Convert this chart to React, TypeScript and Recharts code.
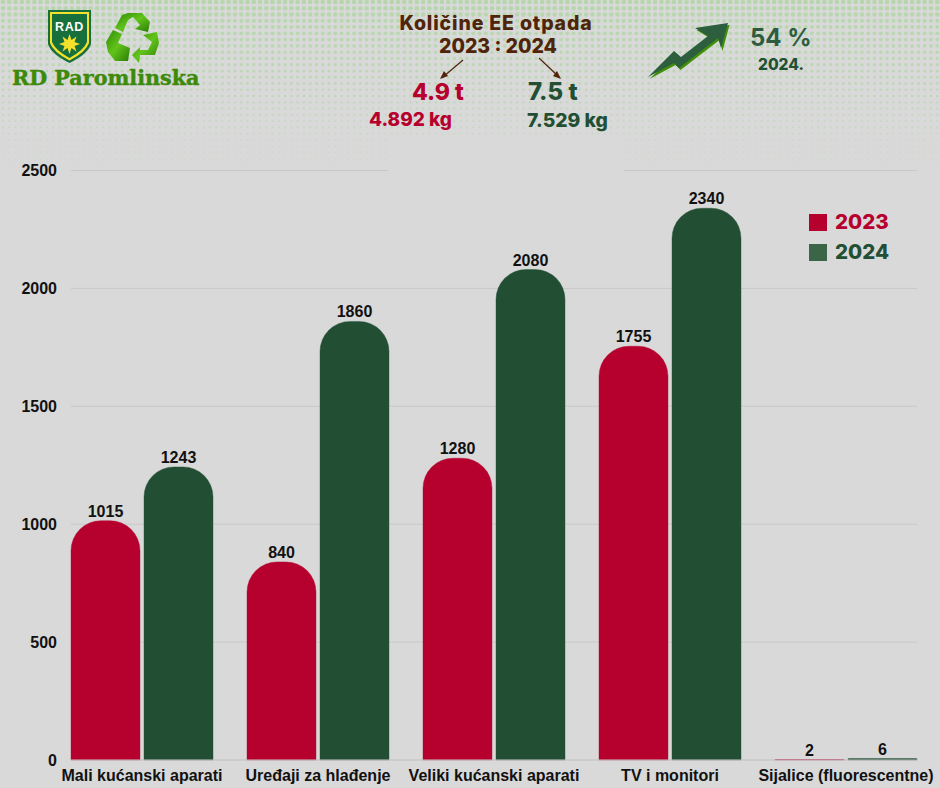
import { BarChart, Bar, XAxis, YAxis, CartesianGrid, LabelList, Legend } from "recharts";

const categories = [
  "Mali kućanski aparati",
  "Uređaji za hlađenje",
  "Veliki kućanski aparati",
  "TV i monitori",
  "Sijalice (fluorescentne)",
];
const values2023 = [1015, 840, 1280, 1755, 2];
const values2024 = [1243, 1860, 2080, 2340, 6];
const yTicks = [0, 500, 1000, 1500, 2000, 2500];
const legendItems = [
  { name: "2023", box: "#b6002d", text: "#b6002d" },
  { name: "2024", box: "#3a6647", text: "#224f34" },
];

const data = categories.map((name, i) => ({
  name,
  y2023: values2023[i],
  y2024: values2024[i],
}));

const RED = "#b6002d";
const GREEN = "#224f34";
const BROWN = "#4f2408";
const HEAD = "Inter, 'Open Sans', sans-serif";
const ARIAL = "'Liberation Sans', Arial, sans-serif";

// halftone background at the top of the page
const Dots = () => {
  const rows = [];
  for (let r = 0; r < 27; r++) {
    const y = 2 + r * 6.27;
    const k = 1 - y / 168;
    const rad = 0.45 + 1.9 * k;
    for (let c = 0; c < 150; c++) {
      rows.push(
        <circle key={`${r}-${c}`} cx={3 + c * 6.27} cy={y} r={rad} fill="#b6d6ac" opacity={0.45 + 0.55 * k} />
      );
    }
  }
  return (
    <svg width={940} height={180} style={{ position: "absolute", left: 0, top: 0 }}>
      {rows}
    </svg>
  );
};

const Header = () => (
  <svg width={940} height={180} style={{ position: "absolute", left: 0, top: 0 }}>
    <defs>
      <linearGradient id="rec" x1="0" y1="0" x2="1" y2="1">
        <stop offset="0%" stopColor="#2f8a06" />
        <stop offset="50%" stopColor="#62c41a" />
        <stop offset="100%" stopColor="#2a7d05" />
      </linearGradient>
    </defs>

    {/* shield */}
    <path d="M48,10 H91 V44 Q88,54 69.5,63 Q51,54 48,44 Z" fill="#17703c" />
    <path d="M50,12 H89 V43 Q86,52 69.5,60.5 Q53,52 50,43 Z" fill="#f4e12c" />
    <path d="M52,14 H87 V42 Q84,50 69.5,58 Q55,50 52,42 Z" fill="#17703c" />
    <text x={69.5} y={31} textAnchor="middle" fontFamily={ARIAL} fontWeight={700} fontSize={12.5} fill="#fff" letterSpacing={0.6}>
      RAD
    </text>
    <path
      d="M69.5,34 L71.5,40 L76.5,36.5 L74.5,42 L80,44 L74.5,46 L76.5,51.5 L71.5,48 L69.5,54 L67.5,48 L62.5,51.5 L64.5,46 L59,44 L64.5,42 L62.5,36.5 L67.5,40 Z"
      fill="#f4e12c"
    />

    {/* recycling icon */}
    <path d="M115,28 L122,15 L128,13 L142,13 L150,22 L148,32 L135,29 L140,25 L133,17 L128,20 L123,32 Z" fill="url(#rec)" />
    <path d="M106,42 L113,30 L122,34 L118,43 L130,48 L128,61 L115,61 L108,52 Z" fill="url(#rec)" />
    <path d="M132,55 L140,47 L140,50 L148,50 L152,42 L143,35 L157,32 L159,43 L155,55 L140,55 L139,63 Z" fill="url(#rec)" />

    <text x={12} y={85} fontFamily="'DejaVu Serif', serif" fontWeight={700} fontSize={20.7} fill="#3d8a0a" stroke="#3d8a0a" strokeWidth={0.4}>
      RD Paromlinska
    </text>

    {/* title block */}
    <text x={496} y={30} textAnchor="middle" fontFamily={HEAD} fontWeight={800} fontSize={19.5} letterSpacing={0.85} fill={BROWN}>
      Količine EE otpada
    </text>
    <text x={498} y={53} textAnchor="middle" fontFamily={HEAD} fontWeight={800} fontSize={19.5} fill={BROWN}>
      2023 : 2024
    </text>
    <line x1={463} y1={60} x2={443} y2={77} stroke={BROWN} strokeWidth={1.2} />
    <path d="M440,79 L448,76 L444,71 Z" fill={BROWN} />
    <line x1={539} y1={58} x2={558} y2={76} stroke={BROWN} strokeWidth={1.2} />
    <path d="M561,79 L557,71 L553,76 Z" fill={BROWN} />

    <text x={412} y={100} fontFamily={HEAD} fontWeight={800} fontSize={23} fill={RED}>4.9 t</text>
    <text x={528} y={100} fontFamily={HEAD} fontWeight={800} fontSize={24} fill={GREEN}>7.5 t</text>
    <text x={369} y={126} fontFamily={HEAD} fontWeight={800} fontSize={19} fill={RED}>4.892 kg</text>
    <text x={527} y={127} fontFamily={HEAD} fontWeight={800} fontSize={19.3} fill={GREEN}>7.529 kg</text>

    {/* growth arrow */}
    <path d="M649.5,79 L675.5,53 L682.5,59 L709.5,38 L696.5,30 L729.5,25 L722.5,51 L719.5,40 L680.5,70 L675.5,65 Z" fill="#3f8f0a" />
    <path d="M648,77 L674,51 L681,57 L708,36 L695,28 L728,23 L721,48 L718,38 L679,68 L674,63 Z" fill="#2d5e3e" />

    <text x={750} y={46} fontFamily={HEAD} fontWeight={700} fontSize={24} fill="#2f5c41">54 %</text>
    <text x={758} y={70} fontFamily={HEAD} fontWeight={800} fontSize={15.5} fill={GREEN}>2024.</text>
  </svg>
);

const ChartLegend = () => (
  <div>
    {legendItems.map((it) => (
      <div key={it.name} style={{ display: "flex", alignItems: "center", height: 30 }}>
        <span style={{ width: 18, height: 17, background: it.box, marginRight: 8 }} />
        <span style={{ fontFamily: HEAD, fontWeight: 800, fontSize: 20.5, color: it.text, lineHeight: "30px" }}>
          {it.name}
        </span>
      </div>
    ))}
  </div>
);

const labelStyle = { fontFamily: ARIAL, fontWeight: 700, fontSize: 16, fill: "#111" };

export default function App() {
  return (
    <div style={{ position: "absolute", left: 0, top: 0, width: 940, height: 788, background: "#d9d9d9", overflow: "hidden" }}>
      <Dots />
      <div style={{ position: "absolute", left: 0, top: 0 }}>
        <BarChart
          width={940}
          height={788}
          data={data}
          margin={{ top: 170.5, right: 23, bottom: 0, left: 0 }}
          barCategoryGap={17}
          barGap={4}
        >
          <CartesianGrid vertical={false} stroke="#c8c8c8" />
          <XAxis
            dataKey="name"
            height={28}
            interval={0}
            padding={{ left: -17, right: -17 }}
            tickLine={false}
            axisLine={{ stroke: "#c8c8c8" }}
            tickMargin={4}
            tick={{ fontFamily: ARIAL, fontWeight: 700, fontSize: 16, fill: "#111" }}
          />
          <YAxis
            width={71}
            domain={[0, 2500]}
            ticks={yTicks}
            tickLine={false}
            axisLine={false}
            tickMargin={8}
            tick={{ fontFamily: ARIAL, fontWeight: 700, fontSize: 16, fill: "#111" }}
          />
          <Legend
            layout="horizontal"
            verticalAlign="middle"
            align="center"
            wrapperStyle={{ left: 809, top: 207, width: 110, bottom: "auto" }}
            content={<ChartLegend />}
          />
          <Bar dataKey="y2023" fill={RED} stroke={RED} strokeWidth={0.4} radius={[30, 30, 0, 0]} isAnimationActive={false}>
            <LabelList dataKey="y2023" position="top" offset={4} style={labelStyle} />
          </Bar>
          <Bar dataKey="y2024" fill={GREEN} stroke={GREEN} strokeWidth={0.4} radius={[30, 30, 0, 0]} isAnimationActive={false}>
            <LabelList dataKey="y2024" position="top" offset={4} style={labelStyle} />
          </Bar>
        </BarChart>
      </div>
      {/* plain patch behind the title that hides the dots and the top grid line */}
      <div style={{ position: "absolute", left: 388, top: 137, width: 236, height: 39, background: "#d9d9d9" }} />
      <Header />
    </div>
  );
}
